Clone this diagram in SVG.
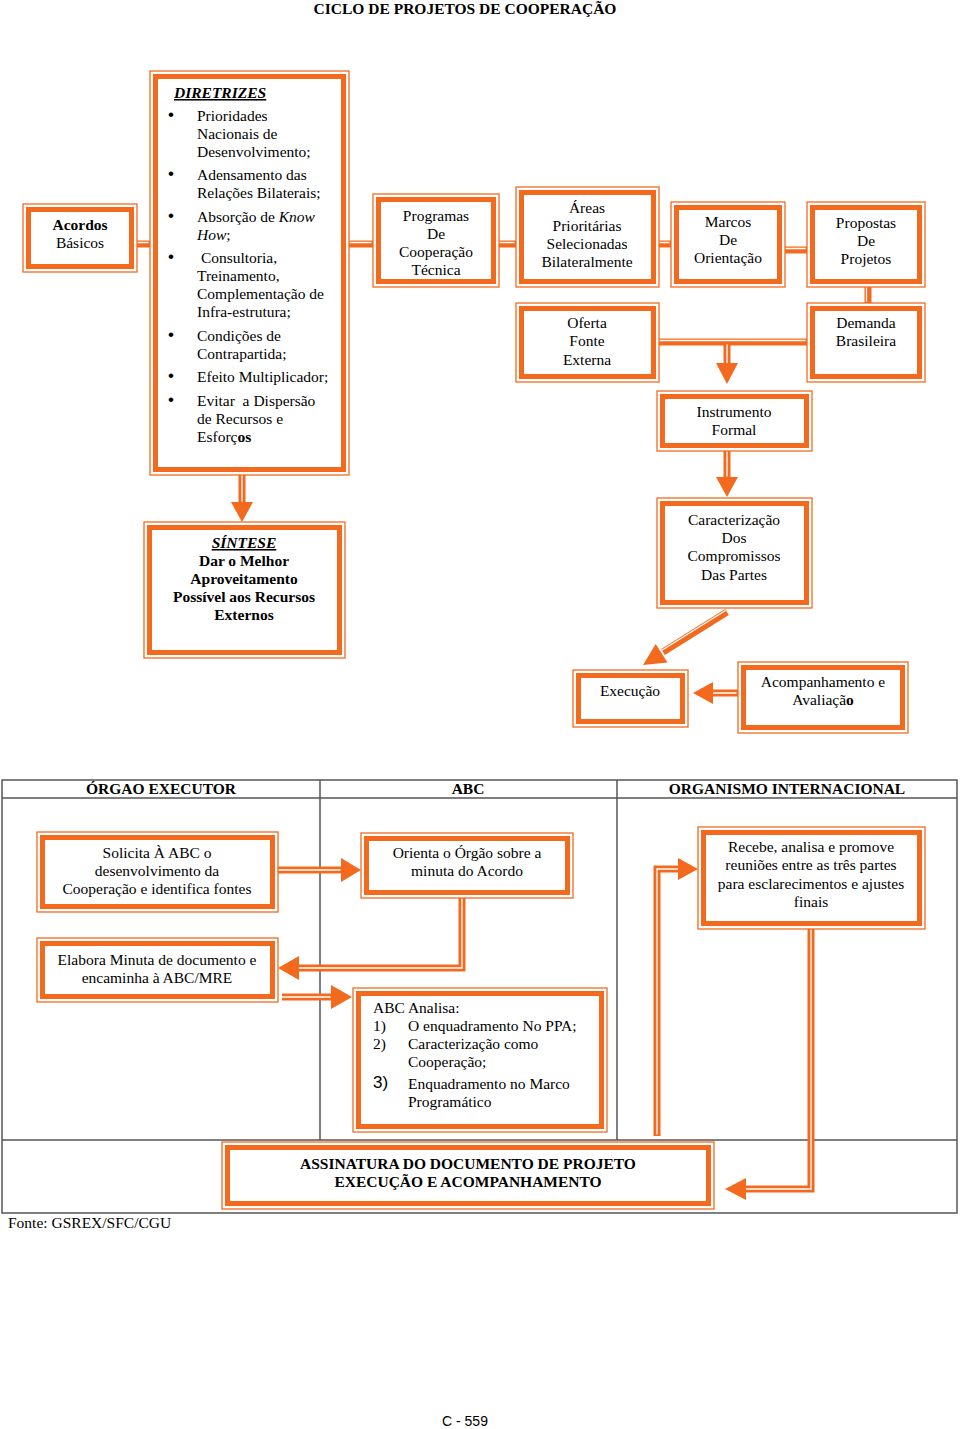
<svg xmlns="http://www.w3.org/2000/svg" width="960" height="1429" viewBox="0 0 960 1429">
<style>
.bo{fill:#fff;stroke:#F36A1E;stroke-width:1.3}
.bi{fill:none;stroke:#F36A1E;stroke-width:5}
.cn{fill:none;stroke:#F36A1E;stroke-width:7}
.cw{fill:none;stroke:#fff;stroke-width:1.3}
.ah{fill:#F36A1E}
.t{font-family:"Liberation Serif","Times New Roman",serif;font-size:15.5px;fill:#000}
.bl{font-family:"Liberation Sans",Arial,sans-serif;font-size:17px;fill:#000}
.c{text-anchor:middle}
.b{font-weight:bold}
.i{font-style:italic}
.u{text-decoration:underline}
.tl{fill:none;stroke:#555;stroke-width:1.5}
</style>
<rect width="960" height="1429" fill="#fff"/>
<text class="t b c" x="465" y="14">CICLO DE PROJETOS DE COOPERAÇÃO</text>

<g id="table">
<rect class="tl" x="2" y="780" width="955" height="433"/>
<line class="tl" x1="2" y1="798" x2="957" y2="798"/>
<line class="tl" x1="320" y1="780" x2="320" y2="1140"/>
<line class="tl" x1="617" y1="780" x2="617" y2="1140"/>
<line class="tl" x1="2" y1="1140" x2="957" y2="1140"/>
<text class="t b c" x="161" y="794">ÓRGAO EXECUTOR</text>
<text class="t b c" x="468" y="794">ABC</text>
<text class="t b c" x="787" y="794">ORGANISMO INTERNACIONAL</text>
</g>

<g id="connectors">
<path class="cn" d="M137 244H150 M349 244H373 M499 244H516 M659 244H671 M785 250H807 M868 287V303 M659 342H807 M727 342V365 M727 451V478 M242 475V503 M727 612L663 652 M738 693H712 M278 870H342 M462 898V968H298 M282 997H332 M657 1136V869H680 M811 929V1189H745"/>
<path class="cw" transform="translate(-1.5,-1.5)" d="M137 244H150 M349 244H373 M499 244H516 M659 244H671 M785 250H807 M868 287V303 M659 342H807 M728.5 346V365 M728.5 451V478 M243.5 475V503 M727 612L663 652 M738 694.5H712 M278 871.5H342 M463.5 898V969.5H298 M282 998.5H332 M658.5 1136V870.5H680 M812.5 929V1190.5H745"/>
<polygon class="ah" points="716,363 738,363 727,384"/>
<polygon class="ah" points="716,477 738,477 727,497"/>
<polygon class="ah" points="231,502 253,502 242,522"/>
<polygon class="ah" points="667.5,662.6 655.7,644 643,665"/>
<polygon class="ah" points="713,682 713,704 693,693"/>
<polygon class="ah" points="341,858 341,882 361,870"/>
<polygon class="ah" points="299,956 299,980 278,968"/>
<polygon class="ah" points="331,985 331,1009 352,997"/>
<polygon class="ah" points="678,858 678,880 698,869"/>
<polygon class="ah" points="746,1178 746,1200 725,1189"/>
</g>

<g id="acordos">
<rect class="bo" x="23" y="204" width="114" height="68"/>
<rect class="bi" x="28.5" y="209.5" width="103" height="57"/>
<text class="t c" x="80" y="230"><tspan class="b">Acordos</tspan></text>
<text class="t c" x="80" y="248">Básicos</text>
</g>

<g id="diretrizes">
<rect class="bo" x="150" y="71" width="199" height="404"/>
<rect class="bi" x="155.5" y="76.5" width="188" height="393"/>
<text class="t b i u" x="174" y="98">DIRETRIZES</text>
<g class="bl">
<text x="168" y="120">•</text>
<text x="168" y="179">•</text>
<text x="168" y="221">•</text>
<text x="168" y="262">•</text>
<text x="168" y="340">•</text>
<text x="168" y="381">•</text>
<text x="168" y="405">•</text>
</g>
<g class="t">
<text x="197" y="121">Prioridades</text>
<text x="197" y="139">Nacionais de</text>
<text x="197" y="157">Desenvolvimento;</text>
<text x="197" y="180">Adensamento das</text>
<text x="197" y="198">Relações Bilaterais;</text>
<text x="197" y="222">Absorção de <tspan class="i">Know</tspan></text>
<text x="197" y="240"><tspan class="i">How</tspan>;</text>
<text x="197" y="263" xml:space="preserve"> Consultoria,</text>
<text x="197" y="281">Treinamento,</text>
<text x="197" y="299">Complementação de</text>
<text x="197" y="317">Infra-estrutura;</text>
<text x="197" y="341">Condições de</text>
<text x="197" y="359">Contrapartida;</text>
<text x="197" y="382">Efeito Multiplicador;</text>
<text x="197" y="406" xml:space="preserve">Evitar  a Dispersão</text>
<text x="197" y="424">de Recursos e</text>
<text x="197" y="442">Esforç<tspan class="b">os</tspan></text>
</g>
</g>

<g id="programas">
<rect class="bo" x="373" y="194" width="126" height="93"/>
<rect class="bi" x="378.5" y="199.5" width="115" height="82"/>
<text class="t c" x="436" y="221">Programas</text>
<text class="t c" x="436" y="239">De</text>
<text class="t c" x="436" y="257">Cooperação</text>
<text class="t c" x="436" y="275">Técnica</text>
</g>

<g id="areas">
<rect class="bo" x="516" y="187" width="143" height="100"/>
<rect class="bi" x="521.5" y="192.5" width="132" height="89"/>
<text class="t c" x="587" y="213">Áreas</text>
<text class="t c" x="587" y="231">Prioritárias</text>
<text class="t c" x="587" y="249">Selecionadas</text>
<text class="t c" x="587" y="267">Bilateralmente</text>
</g>

<g id="oferta">
<rect class="bo" x="516" y="303" width="143" height="79"/>
<rect class="bi" x="521.5" y="308.5" width="132" height="68"/>
<text class="t c" x="587" y="328">Oferta</text>
<text class="t c" x="587" y="346">Fonte</text>
<text class="t c" x="587" y="365">Externa</text>
</g>

<g id="marcos">
<rect class="bo" x="671" y="202" width="114" height="85"/>
<rect class="bi" x="676.5" y="207.5" width="103" height="74"/>
<text class="t c" x="728" y="227">Marcos</text>
<text class="t c" x="728" y="245">De</text>
<text class="t c" x="728" y="263">Orientação</text>
</g>

<g id="propostas">
<rect class="bo" x="807" y="202" width="118" height="85"/>
<rect class="bi" x="812.5" y="207.5" width="107" height="74"/>
<text class="t c" x="866" y="228">Propostas</text>
<text class="t c" x="866" y="246">De</text>
<text class="t c" x="866" y="264">Projetos</text>
</g>

<g id="demanda">
<rect class="bo" x="807" y="303" width="118" height="79"/>
<rect class="bi" x="812.5" y="308.5" width="107" height="68"/>
<text class="t c" x="866" y="328">Demanda</text>
<text class="t c" x="866" y="346">Brasileira</text>
</g>

<g id="instrumento">
<rect class="bo" x="657" y="391" width="155" height="60"/>
<rect class="bi" x="662.5" y="396.5" width="144" height="49"/>
<text class="t c" x="734" y="417">Instrumento</text>
<text class="t c" x="734" y="435">Formal</text>
</g>

<g id="caracterizacao">
<rect class="bo" x="657" y="498" width="155" height="110"/>
<rect class="bi" x="662.5" y="503.5" width="144" height="99"/>
<text class="t c" x="734" y="525">Caracterização</text>
<text class="t c" x="734" y="543">Dos</text>
<text class="t c" x="734" y="561">Compromissos</text>
<text class="t c" x="734" y="580">Das Partes</text>
</g>

<g id="sintese">
<rect class="bo" x="144" y="522" width="201" height="136"/>
<rect class="bi" x="149.5" y="527.5" width="190" height="125"/>
<text class="t b i u c" x="244" y="548">SÍNTESE</text>
<text class="t b c" x="244" y="566">Dar o Melhor</text>
<text class="t b c" x="244" y="584">Aproveitamento</text>
<text class="t b c" x="244" y="602">Possível aos Recursos</text>
<text class="t b c" x="244" y="620">Externos</text>
</g>

<g id="execucao">
<rect class="bo" x="573" y="670" width="115" height="57"/>
<rect class="bi" x="578.5" y="675.5" width="104" height="46"/>
<text class="t c" x="630" y="696">Execução</text>
</g>

<g id="acompanhamento">
<rect class="bo" x="738" y="662" width="170" height="71"/>
<rect class="bi" x="743.5" y="667.5" width="159" height="60"/>
<text class="t c" x="823" y="687">Acompanhamento e</text>
<text class="t c" x="823" y="705">Avaliaçã<tspan class="b">o</tspan></text>
</g>

<g id="solicita">
<rect class="bo" x="37" y="832" width="241" height="80"/>
<rect class="bi" x="42.5" y="837.5" width="230" height="69"/>
<text class="t c" x="157" y="858">Solicita À ABC o</text>
<text class="t c" x="157" y="876">desenvolvimento da</text>
<text class="t c" x="157" y="894">Cooperação e identifica fontes</text>
</g>

<g id="orienta">
<rect class="bo" x="361" y="833" width="212" height="65"/>
<rect class="bi" x="366.5" y="838.5" width="201" height="54"/>
<text class="t c" x="467" y="858">Orienta o Órgão sobre a</text>
<text class="t c" x="467" y="876">minuta do Acordo</text>
</g>

<g id="recebe">
<rect class="bo" x="698" y="827" width="227" height="102"/>
<rect class="bi" x="703.5" y="832.5" width="216" height="91"/>
<text class="t c" x="811" y="852">Recebe, analisa e promove</text>
<text class="t c" x="811" y="870">reuniões entre as três partes</text>
<text class="t c" x="811" y="889">para esclarecimentos e ajustes</text>
<text class="t c" x="811" y="907">finais</text>
</g>

<g id="elabora">
<rect class="bo" x="37" y="938" width="241" height="64"/>
<rect class="bi" x="42.5" y="943.5" width="230" height="53"/>
<text class="t c" x="157" y="965">Elabora Minuta de documento e</text>
<text class="t c" x="157" y="983">encaminha à ABC/MRE</text>
</g>

<g id="abc-analisa">
<rect class="bo" x="353" y="988" width="254" height="144"/>
<rect class="bi" x="358.5" y="993.5" width="243" height="133"/>
<g class="t">
<text x="373" y="1013">ABC Analisa:</text>
<text x="373" y="1031">1)</text>
<text x="408" y="1031">O enquadramento No PPA;</text>
<text x="373" y="1049">2)</text>
<text x="408" y="1049">Caracterização como</text>
<text x="408" y="1067">Cooperação;</text>
<text x="408" y="1089">Enquadramento no Marco</text>
<text x="408" y="1107">Programático</text>
</g>
<text class="bl" x="373" y="1088">3)</text>
</g>

<g id="assinatura">
<rect class="bo" x="222" y="1142" width="492" height="67"/>
<rect class="bi" x="227.5" y="1147.5" width="481" height="56"/>
<text class="t b c" x="468" y="1169">ASSINATURA DO DOCUMENTO DE PROJETO</text>
<text class="t b c" x="468" y="1187">EXECUÇÃO E ACOMPANHAMENTO</text>
</g>

<text class="t" x="8" y="1228">Fonte: GSREX/SFC/CGU</text>
<text x="465" y="1426" font-family="Liberation Sans, Arial, sans-serif" font-size="14" text-anchor="middle">C - 559</text>
</svg>
